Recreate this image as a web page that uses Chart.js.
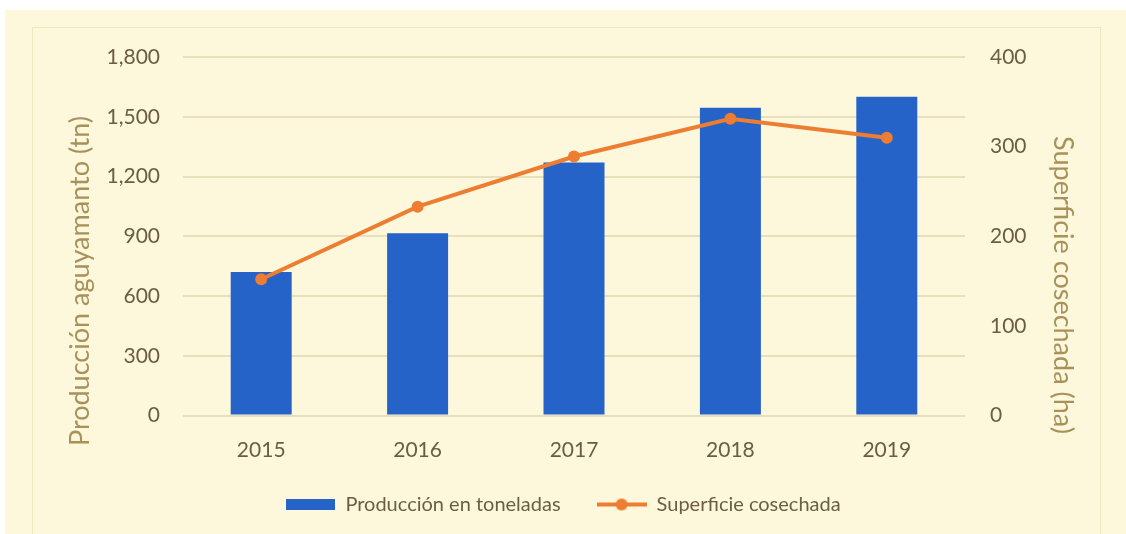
<!DOCTYPE html>
<html>
<head>
<meta charset="utf-8">
<script src="https://cdn.jsdelivr.net/npm/chart.js@4.4.1/dist/chart.umd.min.js"></script>
<style>
  html, body { margin: 0; padding: 0; background: #ffffff; }
  body { width: 1126px; height: 534px; position: relative; overflow: hidden; }
  #panel { position: absolute; left: 5px; top: 10px; right: 0; bottom: 0; background: #fdf8dc; }
  #frame { position: absolute; left: 27px; top: 17px; width: 1067px; height: 520px; border: 1px solid #efe6c2; }
  #chart { position: absolute; left: 0; top: 0; }
</style>
</head>
<body>
<div id="panel"><div id="frame"></div></div>
<canvas id="chart" width="1126" height="534"></canvas>
<script>
const YEARS = ['2015', '2016', '2017', '2018', '2019'];
const PRODUCCION = [720, 915, 1270, 1545, 1600];   // toneladas, left axis
const SUPERFICIE = [152, 233, 289, 331, 310];      // hectareas, right axis
const LEFT_TICKS = [0, 300, 600, 900, 1200, 1500, 1800];
const RIGHT_TICKS = [0, 100, 200, 300, 400];
const LEFT_TITLE = 'Producción aguyamanto (tn)';
const RIGHT_TITLE = 'Superficie cosechada (ha)';

const BLUE = '#2563c9';
const ORANGE = '#ed7d31';
const TICK_COLOR = '#6b5d45';
const TITLE_COLOR = '#a8915a';
const GRID_COLOR = '#e8dfbc';
const FONT = 'Lato';

// Excel-style legend swatches: a flat bar and a line with a marker through it.
function barSwatch() {
  const c = document.createElement('canvas');
  c.width = 49; c.height = 11;
  const g = c.getContext('2d');
  g.fillStyle = BLUE;
  g.fillRect(0, 0, 49, 11);
  return c;
}
function lineSwatch() {
  const c = document.createElement('canvas');
  c.width = 50; c.height = 14;
  const g = c.getContext('2d');
  g.strokeStyle = ORANGE;
  g.lineWidth = 4;
  g.beginPath(); g.moveTo(0, 7); g.lineTo(50, 7); g.stroke();
  g.fillStyle = ORANGE;
  g.beginPath(); g.arc(25, 7, 6, 0, Math.PI * 2); g.fill();
  return c;
}
const SWATCHES = [barSwatch(), lineSwatch()];

// Axis titles sit lower than the plot's middle in the original, so draw them here.
const axisTitles = {
  id: 'axisTitles',
  afterDraw(chart) {
    const ctx = chart.ctx;
    ctx.save();
    ctx.fillStyle = TITLE_COLOR;
    ctx.font = `27px ${FONT}`;
    ctx.textAlign = 'center';
    ctx.textBaseline = 'middle';
    ctx.translate(80, 281);
    ctx.rotate(-Math.PI / 2);
    ctx.fillText(LEFT_TITLE, 0, 0);
    ctx.restore();

    ctx.save();
    ctx.fillStyle = TITLE_COLOR;
    ctx.font = `27px ${FONT}`;
    ctx.textAlign = 'center';
    ctx.textBaseline = 'middle';
    ctx.translate(1063, 285);
    ctx.rotate(Math.PI / 2);
    ctx.fillText(RIGHT_TITLE, 0, 0);
    ctx.restore();
  },
};

new Chart(document.getElementById('chart'), {
  type: 'bar',
  data: {
    labels: YEARS,
    datasets: [
      {
        label: 'Producción en toneladas',
        data: PRODUCCION,
        backgroundColor: BLUE,
        categoryPercentage: 1,
        barPercentage: 0.39,
        yAxisID: 'y',
        order: 1,
      },
      {
        type: 'line',
        label: 'Superficie cosechada',
        data: SUPERFICIE,
        borderColor: ORANGE,
        backgroundColor: ORANGE,
        borderWidth: 4,
        pointRadius: 6,
        pointHoverRadius: 6,
        pointBackgroundColor: ORANGE,
        pointBorderWidth: 0,
        tension: 0,
        yAxisID: 'y1',
        order: 0,
      },
    ],
  },
  options: {
    responsive: false,
    animation: false,
    devicePixelRatio: 1,
    layout: { padding: { top: 57, bottom: 9.5, left: 0, right: 0 } },
    plugins: {
      tooltip: { enabled: false },
      legend: {
        position: 'bottom',
        labels: {
          usePointStyle: true,
          pointStyleWidth: 50,
          padding: 36,
          color: TICK_COLOR,
          font: { family: FONT, size: 20 },
          generateLabels(chart) {
            return chart.data.datasets.map((ds, i) => ({
              text: ds.label,
              pointStyle: SWATCHES[i],
              fillStyle: 'transparent',
              strokeStyle: 'transparent',
              lineWidth: 0,
              fontColor: TICK_COLOR,
              datasetIndex: i,
              hidden: false,
            }));
          },
        },
      },
    },
    scales: {
      x: {
        grid: { display: false, drawTicks: false },
        border: { display: false },
        ticks: { color: TICK_COLOR, font: { family: FONT, size: 21 }, padding: 22 },
        afterFit(scale) { scale.height = 43; },
      },
      y: {
        position: 'left',
        min: 0,
        max: 1800,
        afterBuildTicks(scale) { scale.ticks = LEFT_TICKS.map((v) => ({ value: v })); },
        grid: { color: GRID_COLOR, lineWidth: 2, drawTicks: false },
        border: { display: false },
        ticks: {
          color: TICK_COLOR,
          font: { family: FONT, size: 21 },
          padding: 23,
          callback: (v) => v.toLocaleString('en-US'),
        },
        afterFit(scale) { scale.width = 183; },
      },
      y1: {
        position: 'right',
        min: 0,
        max: 400,
        afterBuildTicks(scale) { scale.ticks = RIGHT_TICKS.map((v) => ({ value: v })); },
        grid: { display: false, drawTicks: false },
        border: { display: false },
        ticks: { color: TICK_COLOR, font: { family: FONT, size: 21 }, padding: 25 },
        afterFit(scale) { scale.width = 161; },
      },
    },
  },
  plugins: [axisTitles],
});
</script>
</body>
</html>
